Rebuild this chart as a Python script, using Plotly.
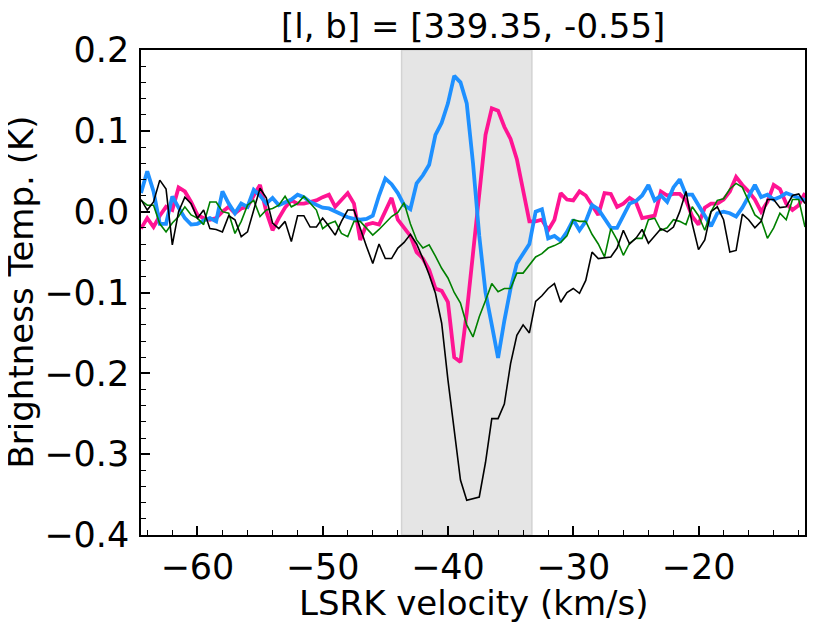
import numpy as np
import plotly.graph_objects as go

# LSRK velocity grid (km/s), 0.5 km/s channels
v_start = -64.5
v_step = 0.5

black_T = [
    0.015, 0.002, 0.012, 0.039, 0.028, -0.041, 0.000, 0.018, 0.010, -0.008,
    0.002, -0.021, -0.022, -0.025, -0.005, -0.010, -0.031, -0.025, 0.002, 0.029,
    0.017, -0.014, -0.021, -0.012, -0.037, -0.005, -0.005, -0.019, -0.019, -0.008,
    -0.018, -0.029, -0.012, 0.002, 0.002, -0.021, -0.043, -0.064, -0.040, -0.058,
    -0.058, -0.045, -0.038, -0.028, -0.040, -0.058, -0.078, -0.101, -0.138, -0.208,
    -0.272, -0.332, -0.357, -0.355, -0.353, -0.310, -0.256, -0.256, -0.238, -0.188,
    -0.153, -0.140, -0.150, -0.111, -0.104, -0.095, -0.089, -0.112, -0.100, -0.095,
    -0.101, -0.085, -0.050, -0.058, -0.057, -0.056, -0.045, -0.023, -0.040, -0.033,
    -0.022, -0.039, -0.030, -0.021, -0.025, -0.019, 0.000, 0.025, -0.015, -0.047,
    -0.035, 0.000, 0.006, -0.010, -0.050, -0.048, -0.003, -0.010, -0.020, -0.012,
    0.015, 0.015, 0.005, 0.006, 0.020, 0.022, 0.010,
]

pink_T = [
    -0.021, -0.008, -0.019, -0.005, 0.006, 0.002, 0.030, 0.025, 0.012, -0.004,
    -0.008, -0.010, -0.008, 0.000, 0.006, -0.002, 0.004, 0.006, 0.020, 0.033,
    0.000, -0.023, -0.008, 0.005, 0.014, 0.010, 0.010, 0.012, 0.014, 0.018,
    0.021, 0.006, 0.015, 0.023, 0.010, -0.035, -0.016, -0.014, -0.016, 0.000,
    0.017, -0.010, -0.020, -0.030, -0.050, -0.058, -0.072, -0.095, -0.098, -0.112,
    -0.180, -0.186, -0.125, -0.050, 0.020, 0.095, 0.128, 0.125, 0.105, 0.090,
    0.065, 0.025, -0.012, -0.012, -0.010, -0.023, -0.010, 0.023, 0.015, 0.014,
    0.025, 0.020, 0.008, -0.004, 0.023, 0.022, 0.006, 0.010, 0.017, 0.012,
    -0.008, -0.006, -0.005, 0.025, 0.020, 0.022, 0.022, 0.014, -0.006, -0.016,
    0.005, 0.010, 0.010, 0.015, 0.025, 0.043, 0.033, 0.025, 0.015, 0.000,
    0.012, 0.033, 0.028, 0.010, 0.002, 0.008, 0.023,
]

blue_T = [
    0.023, 0.050, 0.025, -0.015, -0.015, 0.019, 0.005, -0.008, -0.016, -0.015,
    -0.011, -0.008, -0.012, 0.025, 0.010, -0.002, 0.010, 0.006, 0.027, 0.020,
    0.010, 0.017, 0.008, 0.012, 0.015, 0.021, 0.018, 0.012, 0.008, 0.005,
    0.004, 0.000, -0.004, -0.007, -0.009, -0.010, -0.009, -0.005, 0.020, 0.041,
    0.034, 0.023, 0.008, 0.003, 0.035, 0.045, 0.058, 0.095, 0.110, 0.134,
    0.168, 0.160, 0.134, 0.060, -0.030, -0.100, -0.140, -0.181, -0.135, -0.095,
    -0.064, -0.052, -0.040, 0.000, 0.003, -0.033, -0.030, -0.036, -0.025, -0.010,
    -0.023, -0.012, 0.008, 0.003, -0.008, -0.020, -0.020, -0.005, 0.010, 0.013,
    0.020, 0.033, 0.014, 0.020, 0.012, 0.030, 0.040, 0.021, 0.021, 0.008,
    -0.005, -0.018, -0.002, 0.000, -0.002, -0.006, 0.005, 0.020, 0.033, 0.018,
    0.021, 0.015, 0.018, 0.023, 0.020, 0.017, 0.014,
]

green_T = [
    0.014, 0.008, 0.008, -0.015, -0.025, -0.014, -0.006, 0.006, -0.004, -0.008,
    -0.016, 0.012, 0.012, 0.000, -0.002, -0.027, -0.012, 0.008, 0.014, -0.006,
    0.002, 0.004, 0.008, 0.019, 0.006, 0.010, 0.019, 0.010, 0.002, -0.021,
    -0.015, -0.012, -0.027, -0.031, -0.012, -0.012, -0.020, -0.029, -0.022, -0.014,
    -0.006, -0.001, 0.011, -0.015, -0.035, -0.045, -0.041, -0.055, -0.070, -0.082,
    -0.100, -0.113, -0.140, -0.155, -0.130, -0.110, -0.089, -0.099, -0.095, -0.095,
    -0.076, -0.076, -0.066, -0.056, -0.052, -0.045, -0.042, -0.038, -0.030, -0.010,
    -0.012, -0.012, -0.028, -0.040, -0.056, -0.021, -0.035, -0.054, -0.039, -0.033,
    -0.033, -0.010, -0.008, -0.023, -0.020, -0.010, -0.012, -0.016, 0.006, -0.005,
    -0.023, 0.000, 0.014, 0.016, 0.028, 0.035, 0.030, 0.012, -0.004, -0.010,
    -0.033, -0.020, -0.002, -0.010, 0.015, 0.015, -0.019,
]

vel = v_start + v_step * np.arange(len(black_T))

# integration window
win_lo, win_hi = -43.7, -33.3

font = "DejaVu Sans"
fig = go.Figure()

fig.add_vrect(x0=win_lo, x1=win_hi, fillcolor="#e5e5e5", opacity=1, layer="below",
              line=dict(color="#d3d3d3", width=1.5))

fig.add_trace(go.Scatter(x=vel, y=pink_T, mode="lines", line=dict(color="#ff1493", width=3.8)))
fig.add_trace(go.Scatter(x=vel, y=blue_T, mode="lines", line=dict(color="#1e90ff", width=3.8)))
fig.add_trace(go.Scatter(x=vel, y=green_T, mode="lines", line=dict(color="#008000", width=1.6)))
fig.add_trace(go.Scatter(x=vel, y=black_T, mode="lines", line=dict(color="black", width=1.6)))

axis_common = dict(
    showline=True, linecolor="black", linewidth=1.5, mirror=True,
    ticks="inside", ticklen=9, tickwidth=1.5, tickcolor="black",
    showgrid=False, zeroline=False, automargin=False,
    tickfont=dict(family=font, size=35, color="black"),
)

fig.update_xaxes(range=[-64.5, -11.5], dtick=10, tick0=0, ticklabelstandoff=0,
                 minor=dict(ticks="inside", dtick=2, ticklen=5, tickwidth=1.2, tickcolor="black"),
                 tickformat="d",
                 **axis_common)
fig.update_yaxes(range=[-0.4, 0.2], dtick=0.1, tick0=0, ticklabelstandoff=3,
                 minor=dict(ticks="inside", dtick=0.02, ticklen=5, tickwidth=1.2, tickcolor="black"),
                 tickformat=".1f",
                 **axis_common)

title_font = dict(family=font, size=34, color="black")
fig.add_annotation(text="[l, b] = [339.35, -0.55]", x=0.5, y=1, xref="paper", yref="paper",
                   xanchor="center", yanchor="bottom", yshift=3, showarrow=False,
                   borderpad=0, font=dict(family=font, size=34, color="black"))
fig.add_annotation(text="LSRK velocity (km/s)", x=0.5, y=0, xref="paper", yref="paper",
                   xanchor="center", yanchor="bottom", yshift=-90, showarrow=False,
                   font=title_font)
fig.add_annotation(text="Brightness Temp. (K)", x=0, y=0.5, xref="paper", yref="paper",
                   xanchor="center", yanchor="middle", xshift=-121, textangle=-90,
                   showarrow=False, borderpad=0, font=title_font)

# page body adds an 8px offset, so margins are shifted to keep the frame in place
fig.update_layout(
    width=830, height=623,
    margin=dict(l=133, r=33, t=42, b=96),
    paper_bgcolor="white", plot_bgcolor="white",
    showlegend=False,
    separators=".\u2212",
)

fig.write_html("out.html")
